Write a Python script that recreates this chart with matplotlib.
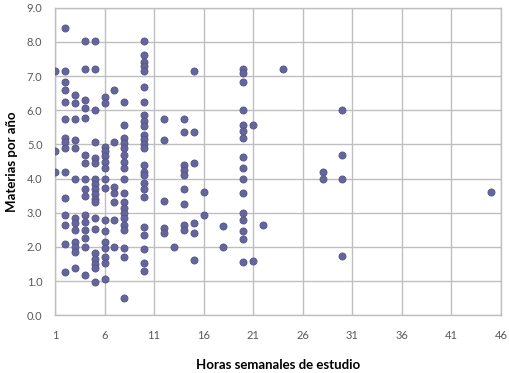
import matplotlib.pyplot as plt

# horas semanales de estudio (x) y materias por año (y)
h1 = [7.15, 4.8, 4.2]
h2 = [8.4, 7.15, 6.83, 6.6, 6.25, 5.75, 5.2, 5.08, 4.9, 4.2, 3.43, 2.93, 2.64, 2.08, 1.27]
h3 = [6.45, 6.2, 5.75, 5.13, 4.9, 4.0, 2.85, 2.7, 2.5, 2.15, 2.0, 1.85, 1.38]
h4 = [8.03, 7.2, 6.3, 6.07, 5.78, 4.7, 4.45, 4.0, 3.7, 3.5, 2.93, 2.73, 2.5, 2.27, 2.0, 1.17]
h5 = [8.03, 7.2, 6.0, 5.07, 4.6, 4.45, 4.0, 3.85, 3.7, 3.55, 3.4, 3.3, 2.85, 2.52,
      1.82, 1.65, 1.5, 1.38, 0.97]
h6 = [6.4, 6.2, 4.93, 4.8, 4.65, 4.5, 4.3, 4.0, 3.72, 2.78, 2.47, 2.13, 1.97, 1.7, 1.52, 1.05]
h7 = [6.6, 5.07, 3.75, 3.58, 3.32, 2.78, 2.0]
h8 = [6.25, 5.57, 5.2, 5.05, 4.9, 4.7, 4.5, 4.3, 4.0, 3.58, 3.3, 3.15, 3.0, 2.85,
      2.63, 2.5, 1.97, 1.7, 0.5]
h10 = [8.03, 7.62, 7.4, 7.3, 7.15, 6.68, 6.25, 5.85, 5.7, 5.55, 5.27, 5.15, 5.0, 4.9,
       4.4, 4.2, 4.1, 3.87, 3.7, 3.45, 2.58, 2.35, 1.93, 1.52, 1.28]
h12 = [5.75, 5.13, 3.34, 2.55, 2.42]
h13 = [2.0]
h14 = [5.75, 5.36, 4.4, 4.25, 4.1, 3.7, 3.25, 2.63, 2.5]
h15 = [7.15, 5.36, 4.46, 2.7, 2.4, 1.63]
h16 = [3.6, 2.93]
h18 = [2.6, 2.0]
h20 = [7.2, 7.1, 6.83, 6.0, 5.57, 5.4, 5.2, 4.63, 4.3, 4.0, 3.57, 2.98, 2.8, 2.47, 2.23, 1.57]
h21 = [5.57, 1.6]
h22 = [2.63]
h24 = [7.2]
h28 = [4.2, 4.0]
h30 = [6.0, 4.7, 4.0, 1.73]
h45 = [3.6]

groups = [(1, h1), (2, h2), (3, h3), (4, h4), (5, h5), (6, h6), (7, h7), (8, h8),
          (10, h10), (12, h12), (13, h13), (14, h14), (15, h15), (16, h16), (18, h18),
          (20, h20), (21, h21), (22, h22), (24, h24), (28, h28), (30, h30), (45, h45)]

x_ticks = [1, 6, 11, 16, 21, 26, 31, 36, 41, 46]
y_ticks = [0, 1, 2, 3, 4, 5, 6, 7, 8, 9]

xs = []
ys = []
for h, vals in groups:
    for v in vals:
        xs.append(h)
        ys.append(v)

plt.rcParams['font.family'] = ['Lato', 'DejaVu Sans']

fig = plt.figure(figsize=(5.09, 3.73), dpi=100)
ax = fig.add_axes([0.108, 0.155, 0.876, 0.824])

ax.scatter(xs, ys, s=26, color='#65659C', edgecolors='#55558A', linewidths=0.6, zorder=3)

ax.set_xlim(1, 46)
ax.set_ylim(0, 9)
ax.set_xticks(x_ticks)
ax.set_yticks(y_ticks)
ax.set_yticklabels([f"{v:.1f}" for v in y_ticks])
ax.grid(True, color='#BFBFBF', linewidth=1.0)
ax.set_axisbelow(True)
for s in ax.spines.values():
    s.set_color('#BFBFBF')
    s.set_linewidth(1.0)
ax.tick_params(length=0, labelsize=8, labelcolor='#595959')
ax.tick_params(axis='x', pad=11)
ax.tick_params(axis='y', pad=9)

ax.set_xlabel("Horas semanales de estudio", fontsize=9.5, fontweight='bold')
ax.set_ylabel("Materias por año", fontsize=9.5, fontweight='bold')
ax.xaxis.set_label_coords(0.5, -0.163)
ax.xaxis.label.set_va('center')
ax.yaxis.set_label_coords(-0.097, 0.5)
ax.yaxis.label.set_va('center')

plt.savefig("out.png", dpi=100)
